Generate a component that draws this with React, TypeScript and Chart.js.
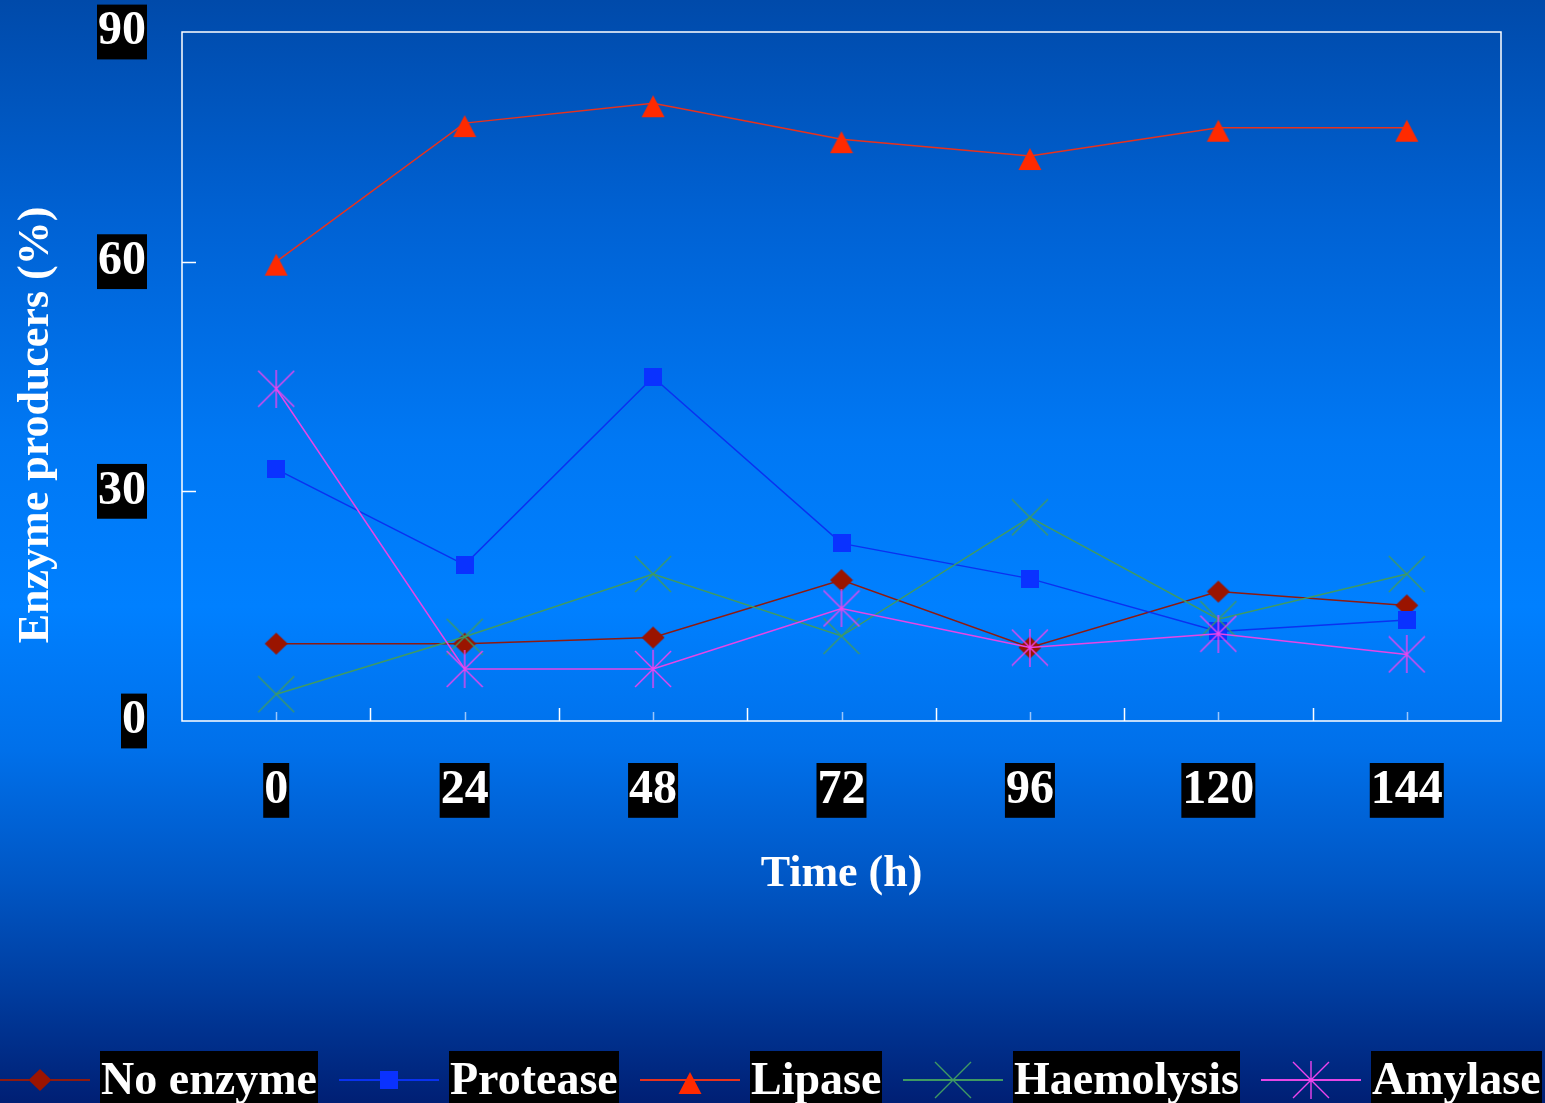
import React, { useEffect, useRef } from 'react';
import { Chart, registerables } from 'chart.js';

Chart.register(...registerables);

// Sampling times (h)
const hours = ['0', '24', '48', '72', '96', '120', '144'];

// Percentage of isolates producing each enzyme
const noEnzyme = [10.1, 10.1, 10.9, 18.4, 9.6, 16.9, 15.1];
const protease = [32.9, 20.4, 44.9, 23.2, 18.6, 11.7, 13.2];
const lipase = [60.0, 78.1, 80.7, 76.0, 73.8, 77.5, 77.5];
const haemolysis = [3.5, 11.0, 19.2, 11.1, 26.6, 13.3, 19.2];
const amylase = [43.4, 6.8, 6.8, 14.7, 9.6, 11.4, 8.7];

const yTicks = [0, 30, 60, 90];
const seriesNames = ['No enzyme', 'Protease', 'Lipase', 'Haemolysis', 'Amylase'];
const xTitle = 'Time (h)';
const yTitle = 'Enzyme producers (%)';

const SERIF = '"Liberation Serif", "Times New Roman", serif';

type MarkerKind = 'diamond' | 'square' | 'triangle' | 'cross' | 'star';

function makeMarker(kind: MarkerKind, color: string): HTMLCanvasElement {
  const c = document.createElement('canvas');
  const g = c.getContext('2d') as CanvasRenderingContext2D;
  if (kind === 'diamond') {
    c.width = 24; c.height = 24;
    g.fillStyle = color;
    g.beginPath();
    g.moveTo(12, 1); g.lineTo(23.5, 12); g.lineTo(12, 23); g.lineTo(0.5, 12);
    g.closePath(); g.fill();
  } else if (kind === 'square') {
    c.width = 18; c.height = 18;
    g.fillStyle = color;
    g.fillRect(0, 0, 18, 18);
  } else if (kind === 'triangle') {
    c.width = 24; c.height = 36;
    g.fillStyle = color;
    g.beginPath();
    g.moveTo(12, 10); g.lineTo(23.5, 32); g.lineTo(0.5, 32);
    g.closePath(); g.fill();
  } else {
    c.width = 38; c.height = 38;
    g.strokeStyle = color;
    g.lineWidth = 1.4;
    g.beginPath();
    g.moveTo(1, 1); g.lineTo(37, 37);
    g.moveTo(37, 1); g.lineTo(1, 37);
    if (kind === 'star') { g.moveTo(19, 0); g.lineTo(19, 38); }
    g.stroke();
  }
  return c;
}

const seriesValues = [noEnzyme, protease, lipase, haemolysis, amylase];
const lineColors = ['#8e1a10', '#0a32f0', '#e8321c', '#3f9a62', '#e646e6'];
const markerColors = ['#9a1400', '#0a32ff', '#ff2a00', '#3f9a62', '#ee44ee'];
const markerKinds: MarkerKind[] = ['diamond', 'square', 'triangle', 'cross', 'star'];

function paintBackground(ctx: CanvasRenderingContext2D, w: number, h: number) {
  const grad = ctx.createLinearGradient(0, 0, 0, h);
  grad.addColorStop(0, '#004aaa');
  grad.addColorStop(0.2, '#0062d4');
  grad.addColorStop(0.4, '#0078f4');
  grad.addColorStop(0.55, '#0080ff');
  grad.addColorStop(0.68, '#0070ea');
  grad.addColorStop(0.8, '#0056c4');
  grad.addColorStop(0.9, '#003c9e');
  grad.addColorStop(1, '#001f74');
  ctx.fillStyle = grad;
  ctx.fillRect(0, 0, w, h);
}

const backgroundPlugin = {
  id: 'pageBackground',
  beforeDraw(chart: any) {
    const { ctx, width, height } = chart;
    ctx.save();
    paintBackground(ctx, width, height);
    ctx.restore();
  },
};

// White frame around the plot plus inward tick marks
const framePlugin = {
  id: 'plotFrame',
  beforeDatasetsDraw(chart: any) {
    const { ctx, chartArea } = chart;
    const { left, right, top, bottom } = chartArea;
    const xs = chart.scales.x;
    const ys = chart.scales.y;
    ctx.save();
    ctx.strokeStyle = '#ffffff';
    ctx.lineWidth = 1.5;
    ctx.strokeRect(left, top, right - left, bottom - top);

    ctx.beginPath();
    ys.ticks.forEach((t: any) => {
      if (t.value <= ys.min || t.value >= ys.max) return;
      const py = Math.round(ys.getPixelForValue(t.value)) + 0.5;
      ctx.moveTo(left, py);
      ctx.lineTo(left + 14, py);
    });
    for (let i = 0; i < hours.length - 1; i++) {
      const px = Math.round((xs.getPixelForValue(i) + xs.getPixelForValue(i + 1)) / 2) + 0.5;
      ctx.moveTo(px, bottom);
      ctx.lineTo(px, bottom - 13);
    }
    ctx.stroke();

    ctx.strokeStyle = 'rgba(205,225,255,0.75)';
    ctx.beginPath();
    for (let i = 0; i < hours.length; i++) {
      const px = Math.round(xs.getPixelForValue(i)) + 0.5;
      ctx.moveTo(px, bottom);
      ctx.lineTo(px, bottom - 9);
    }
    ctx.stroke();
    ctx.restore();
  },
};

// Vertical axis caption, placed slightly below the plot's middle
const yTitlePlugin = {
  id: 'yCaption',
  afterDraw(chart: any) {
    const { ctx } = chart;
    ctx.save();
    ctx.translate(37, 425);
    ctx.rotate(-Math.PI / 2);
    ctx.font = `bold 44px ${SERIF}`;
    ctx.fillStyle = '#ffffff';
    ctx.textAlign = 'center';
    ctx.textBaseline = 'middle';
    ctx.fillText(yTitle, 0, 0);
    ctx.restore();
  },
};

// Legend row along the bottom edge: line sample with marker, then a black label box
const legendPlugin = {
  id: 'bottomLegend',
  afterDraw(chart: any) {
    const { ctx } = chart;
    const lineY = 1080;
    const boxTop = 1051;
    const boxH = 56;
    let x = -10;
    ctx.save();
    ctx.font = `bold 46px ${SERIF}`;
    ctx.textBaseline = 'middle';
    ctx.textAlign = 'left';
    chart.data.datasets.forEach((ds: any) => {
      ctx.strokeStyle = ds.borderColor;
      ctx.lineWidth = 2;
      ctx.beginPath();
      ctx.moveTo(x, lineY);
      ctx.lineTo(x + 100, lineY);
      ctx.stroke();
      const img = ds.pointStyle as HTMLCanvasElement;
      const mx = x + 50;
      ctx.drawImage(img, Math.round(mx - img.width / 2), Math.round(lineY - img.height / 2));
      x += 110;
      const tw = ctx.measureText(ds.label).width;
      const bw = Math.round(tw + 2);
      ctx.fillStyle = '#000000';
      ctx.fillRect(x, boxTop, bw, boxH);
      ctx.fillStyle = '#ffffff';
      ctx.fillText(ds.label, x + 1, lineY + 2);
      x += bw + 21;
    });
    ctx.restore();
  },
};

export default function App() {
  const canvasRef = useRef<HTMLCanvasElement | null>(null);

  useEffect(() => {
    document.body.style.margin = '0';
    const canvas = canvasRef.current;
    if (!canvas) return;

    const datasets = seriesNames.map((name, i) => ({
      label: name,
      data: seriesValues[i],
      borderColor: lineColors[i],
      backgroundColor: markerColors[i],
      borderWidth: 1.5,
      pointStyle: makeMarker(markerKinds[i], markerColors[i]),
      pointRadius: 6,
      pointHoverRadius: 6,
      tension: 0,
      fill: false,
      order: seriesNames.length - i,
    }));

    const chart = new Chart(canvas, {
      type: 'line',
      data: { labels: hours, datasets },
      options: {
        responsive: false,
        animation: false,
        events: [],
        layout: { padding: { left: 0, right: 44, top: 32, bottom: 202 } },
        plugins: {
          legend: { display: false },
          tooltip: { enabled: false },
        },
        scales: {
          x: {
            type: 'category',
            offset: true,
            grid: { display: false, drawTicks: false },
            border: { display: false },
            ticks: {
              color: '#ffffff',
              font: { family: SERIF, size: 48, weight: 'bold', lineHeight: 1.1 },
              padding: 43,
              showLabelBackdrop: true,
              backdropColor: '#000000',
              backdropPadding: { left: 1, right: 1, top: 1, bottom: 1 },
              maxRotation: 0,
              autoSkip: false,
            },
            title: {
              display: true,
              text: xTitle,
              color: '#ffffff',
              font: { family: SERIF, size: 44, weight: 'bold', lineHeight: 1.2 },
              padding: { top: 0, bottom: 0 },
            },
            afterFit(scale: any) {
              scale.height = 180;
              scale.paddingLeft = 0;
              scale.paddingRight = 0;
            },
          },
          y: {
            min: 0,
            max: 90,
            afterBuildTicks(scale: any) {
              scale.ticks = yTicks.map((v) => ({ value: v }));
            },
            grid: { display: false, drawTicks: false },
            border: { display: false },
            ticks: {
              color: '#ffffff',
              font: { family: SERIF, size: 48, weight: 'bold', lineHeight: 1.1 },
              padding: 36,
              showLabelBackdrop: true,
              backdropColor: '#000000',
              backdropPadding: { left: 1, right: 1, top: 1, bottom: 1 },
            },
            title: { display: false },
            afterFit(scale: any) {
              scale.width = 182;
              scale.paddingTop = 0;
              scale.paddingBottom = 0;
            },
          },
        },
      } as any,
      plugins: [backgroundPlugin, framePlugin, yTitlePlugin, legendPlugin],
    });

    return () => {
      chart.destroy();
    };
  }, []);

  return (
    <div style={{ position: 'absolute', left: 0, top: 0, width: 1545, height: 1103, overflow: 'hidden' }}>
      <canvas ref={canvasRef} width={1545} height={1103} style={{ display: 'block' }} />
    </div>
  );
}
